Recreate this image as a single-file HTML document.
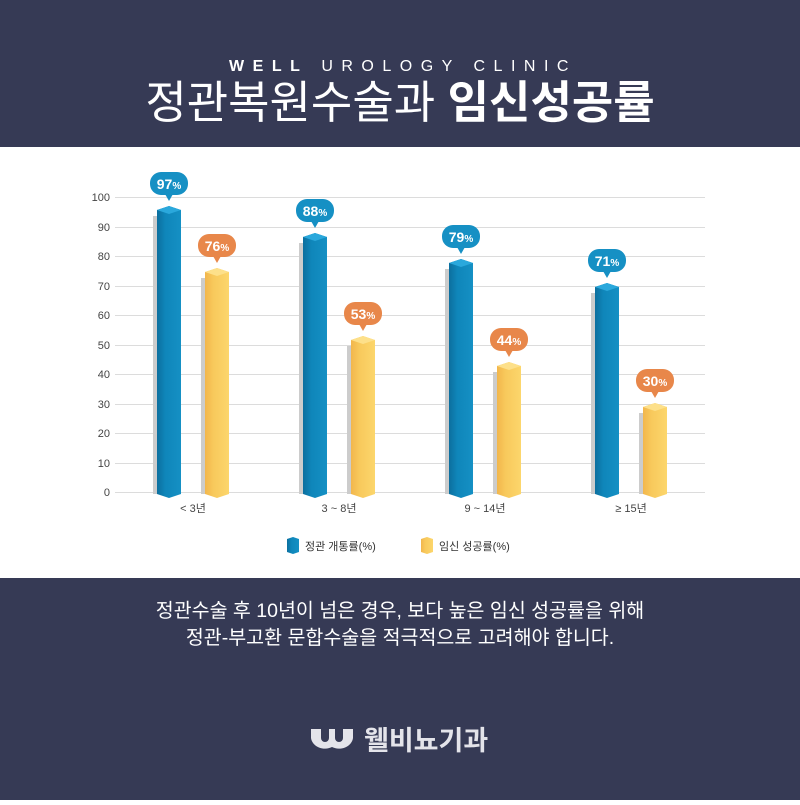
<!DOCTYPE html>
<html><head><meta charset="utf-8"><style>
body{margin:0;width:800px;height:800px;overflow:hidden;font-family:"Liberation Sans","Noto Sans CJK KR",sans-serif;background:#fff}
</style></head><body>
<svg width="800" height="800" xmlns="http://www.w3.org/2000/svg" font-family="Liberation Sans, Noto Sans CJK KR, sans-serif">
<defs>
<linearGradient id="gb" x1="0" x2="1"><stop offset="0" stop-color="#0c6f9e"/><stop offset="0.35" stop-color="#0f86ba"/><stop offset="1" stop-color="#1590c4"/></linearGradient>
<linearGradient id="gy" x1="0" x2="1"><stop offset="0" stop-color="#f2b64c"/><stop offset="0.35" stop-color="#f8c95c"/><stop offset="1" stop-color="#fcd66c"/></linearGradient>
</defs>
<rect width="800" height="147" fill="#363a55"/>
<rect y="578" width="800" height="222" fill="#363a55"/>
<text x="403" y="71" fill="#fff" font-size="16" text-anchor="middle" letter-spacing="8.5"><tspan font-weight="bold">WELL</tspan> UROLOGY CLINIC</text>
<text x="400" y="118" fill="#fff" font-size="45" text-anchor="middle">정관복원수술과 <tspan font-weight="bold">임신성공률</tspan></text>
<g stroke="#dcdcdc" stroke-width="1">
<line x1="115" x2="705" y1="197.5" y2="197.5"/><line x1="115" x2="705" y1="227.5" y2="227.5"/><line x1="115" x2="705" y1="256.5" y2="256.5"/><line x1="115" x2="705" y1="286.5" y2="286.5"/><line x1="115" x2="705" y1="315.5" y2="315.5"/><line x1="115" x2="705" y1="345.5" y2="345.5"/><line x1="115" x2="705" y1="374.5" y2="374.5"/><line x1="115" x2="705" y1="404.5" y2="404.5"/><line x1="115" x2="705" y1="433.5" y2="433.5"/><line x1="115" x2="705" y1="463.5" y2="463.5"/><line x1="115" x2="705" y1="492.5" y2="492.5"/>
</g>
<g font-size="11" fill="#444" text-anchor="end">
<text x="110" y="201">100</text><text x="110" y="231">90</text><text x="110" y="260">80</text><text x="110" y="290">70</text><text x="110" y="319">60</text><text x="110" y="349">50</text><text x="110" y="378">40</text><text x="110" y="408">30</text><text x="110" y="437">20</text><text x="110" y="467">10</text><text x="110" y="496">0</text>
</g>
<g font-size="11" fill="#444" text-anchor="middle">
<text x="193" y="512">&lt; 3년</text><text x="339" y="512">3 ~ 8년</text><text x="485" y="512">9 ~ 14년</text><text x="631" y="512">≥ 15년</text>
</g>
<g>
<rect x="153" y="216" width="6" height="278" fill="#ccc"/><path d="M157 210 L169 206 L181 210 L181 494 L169 498 L157 494Z" fill="url(#gb)"/><path d="M157 210 L169 206 L181 210 L169 214Z" fill="#2aa8dc"/>
<rect x="299" y="243" width="6" height="251" fill="#ccc"/><path d="M303 237 L315 233 L327 237 L327 494 L315 498 L303 494Z" fill="url(#gb)"/><path d="M303 237 L315 233 L327 237 L315 241Z" fill="#2aa8dc"/>
<rect x="445" y="269" width="6" height="225" fill="#ccc"/><path d="M449 263 L461 259 L473 263 L473 494 L461 498 L449 494Z" fill="url(#gb)"/><path d="M449 263 L461 259 L473 263 L461 267Z" fill="#2aa8dc"/>
<rect x="591" y="293" width="6" height="201" fill="#ccc"/><path d="M595 287 L607 283 L619 287 L619 494 L607 498 L595 494Z" fill="url(#gb)"/><path d="M595 287 L607 283 L619 287 L607 291Z" fill="#2aa8dc"/>
<rect x="201" y="278" width="6" height="216" fill="#ccc"/><path d="M205 272 L217 268 L229 272 L229 494 L217 498 L205 494Z" fill="url(#gy)"/><path d="M205 272 L217 268 L229 272 L217 276Z" fill="#fde08a"/>
<rect x="347" y="346" width="6" height="148" fill="#ccc"/><path d="M351 340 L363 336 L375 340 L375 494 L363 498 L351 494Z" fill="url(#gy)"/><path d="M351 340 L363 336 L375 340 L363 344Z" fill="#fde08a"/>
<rect x="493" y="372" width="6" height="122" fill="#ccc"/><path d="M497 366 L509 362 L521 366 L521 494 L509 498 L497 494Z" fill="url(#gy)"/><path d="M497 366 L509 362 L521 366 L509 370Z" fill="#fde08a"/>
<rect x="639" y="413" width="6" height="81" fill="#ccc"/><path d="M643 407 L655 403 L667 407 L667 494 L655 498 L643 494Z" fill="url(#gy)"/><path d="M643 407 L655 403 L667 407 L655 411Z" fill="#fde08a"/>
</g>
<g font-size="14" font-weight="bold" fill="#fff" text-anchor="middle">
<g fill="#1690c4"><rect x="150" y="172" width="38" height="23" rx="11"/><path d="M165 194 L169 201 L173 194Z"/>
<rect x="296" y="199" width="38" height="23" rx="11"/><path d="M311 221 L315 228 L319 221Z"/>
<rect x="442" y="225" width="38" height="23" rx="11"/><path d="M457 247 L461 254 L465 247Z"/>
<rect x="588" y="249" width="38" height="23" rx="11"/><path d="M603 271 L607 278 L611 271Z"/></g>
<g fill="#e8874a"><rect x="198" y="234" width="38" height="23" rx="11"/><path d="M213 256 L217 263 L221 256Z"/>
<rect x="344" y="302" width="38" height="23" rx="11"/><path d="M359 324 L363 331 L367 324Z"/>
<rect x="490" y="328" width="38" height="23" rx="11"/><path d="M505 350 L509 357 L513 350Z"/>
<rect x="636" y="369" width="38" height="23" rx="11"/><path d="M651 391 L655 398 L659 391Z"/></g>
<text x="169" y="189">97<tspan font-size="10">%</tspan></text>
<text x="315" y="216">88<tspan font-size="10">%</tspan></text>
<text x="461" y="242">79<tspan font-size="10">%</tspan></text>
<text x="607" y="266">71<tspan font-size="10">%</tspan></text>
<text x="217" y="251">76<tspan font-size="10">%</tspan></text>
<text x="363" y="319">53<tspan font-size="10">%</tspan></text>
<text x="509" y="345">44<tspan font-size="10">%</tspan></text>
<text x="655" y="386">30<tspan font-size="10">%</tspan></text>
</g>
<path d="M287 539 L293 537 L299 539 L299 552 L293 554 L287 552Z" fill="url(#gb)"/>
<text x="305" y="550" font-size="11" fill="#333">정관 개통률(%)</text>
<path d="M421 539 L427 537 L433 539 L433 552 L427 554 L421 552Z" fill="url(#gy)"/>
<text x="439" y="550" font-size="11" fill="#333">임신 성공률(%)</text>
<text x="400" y="617" font-size="19.5" fill="#fff" text-anchor="middle">정관수술 후 10년이 넘은 경우, 보다 높은 임신 성공률을 위해</text>
<text x="400" y="644" font-size="19.5" fill="#fff" text-anchor="middle">정관-부고환 문합수술을 적극적으로 고려해야 합니다.</text>
<path d="M311 729 h10 v9 a4 4 0 0 0 8 0 v-9 h6 v9 a4 4 0 0 0 8 0 v-9 h10 v9 a14 12 0 0 1 -21 9 a14 12 0 0 1 -21 -9Z" fill="#e4e4ea"/>
<text x="364" y="750" font-size="27" font-weight="bold" fill="#e4e4ea">웰비뇨기과</text>
</svg>
</body></html>
